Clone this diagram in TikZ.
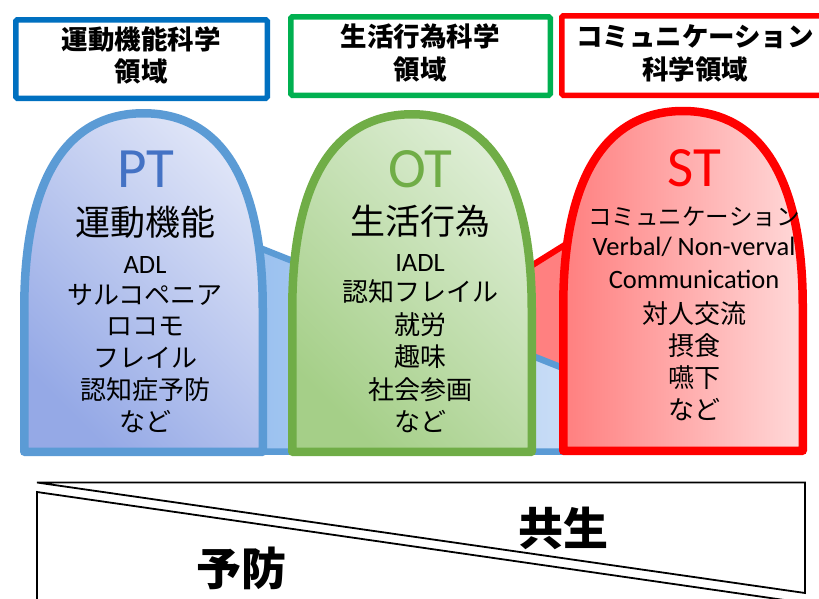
\documentclass[tikz,border=0pt]{standalone}
\usepackage{fontspec}
\setmainfont{Carlito}
\newfontfamily\jp{Noto Sans CJK JP}
\definecolor{ptline}{RGB}{91,155,213}
\definecolor{ptdark}{RGB}{149,169,230}
\definecolor{ptlight}{RGB}{222,228,247}
\definecolor{ptword}{RGB}{68,114,196}
\definecolor{otline}{RGB}{112,173,71}
\definecolor{otdark}{RGB}{165,207,136}
\definecolor{otlight}{RGB}{221,237,212}
\definecolor{stleft}{RGB}{255,127,127}
\definecolor{stright}{RGB}{255,217,217}
\definecolor{bkleft}{RGB}{146,188,238}
\definecolor{bkright}{RGB}{220,232,249}
\definecolor{bkred}{RGB}{255,128,128}
\definecolor{boxblue}{RGB}{0,112,192}
\definecolor{boxgreen}{RGB}{0,176,80}
\begin{document}
\begin{tikzpicture}[x=1pt,y=-1pt,
  topbox/.style={line width=5.5pt, rounded corners=1.5pt, fill=white},
  boxtext/.style={anchor=base, inner sep=0pt, font=\jp\bfseries\fontsize{26.5}{30}\selectfont},
  archline/.style={line width=8.5pt, line join=round},
  bigabbr/.style={anchor=base, inner sep=0pt, font=\fontsize{57}{60}\selectfont},
  headword/.style={anchor=base, inner sep=0pt, font=\jp\fontsize{35}{40}\selectfont},
  jpitem/.style={anchor=base, inner sep=0pt, font=\jp\fontsize{26}{30}\selectfont},
  enitem/.style={anchor=base, inner sep=0pt, font=\fontsize{26.5}{30}\selectfont},
  bigword/.style={anchor=base, inner sep=0pt, font=\jp\bfseries\fontsize{45}{50}\selectfont},
  tri/.style={draw=black, line width=1.8pt, fill=white}]
\useasboundingbox (0,0) rectangle (819,598);
\clip (0,0) rectangle (819,598);

% top boxes
\draw[topbox, draw=boxblue] (15.75,19.75) rectangle (267.25,98.25);
\draw[topbox, draw=boxgreen] (290.75,16.75) rectangle (550.25,95.25);
\draw[topbox, draw=red] (561.75,15.75) rectangle (840,95.25);
\node[boxtext] (b1a) at (141,49.8) {運動機能科学};
\node[boxtext] (b1b) at (141,81.3) {領域};
\node[boxtext] (b2a) at (420,46.8) {生活行為科学};
\node[boxtext] (b2b) at (420,79.8) {領域};
\node[boxtext] (b3a) at (695,46.8) {コミュニケーション};
\node[boxtext] (b3b) at (695,79.8) {科学領域};

% background connecting shapes
\draw[line width=6pt, draw=red, fill=bkred] (440,322.9) -- (640,197.9) -- (640,440) -- (440,440) -- cycle;
\draw[line width=6.5pt, draw=ptline, left color=bkleft, right color=bkright] (200,224.3) -- (700,422.3) -- (700,451.5) -- (200,451.5) -- cycle;

% arches
\draw[archline, draw=ptline, top color=ptlight, bottom color=ptdark, shading angle=-45]
  (24.25,451.75) -- (24.25,309) .. controls (24.25,161) and (78.5,113.25) .. (143.5,113.25)
  .. controls (208.5,113.25) and (262.75,161) .. (262.75,309) -- (262.75,451.75) -- cycle;
\draw[archline, draw=otline, top color=otlight, bottom color=otdark, shading angle=-45]
  (292.25,451.75) -- (292.25,310) .. controls (292.25,162) and (347,114.25) .. (412,114.25)
  .. controls (477,114.25) and (531.75,162) .. (531.75,310) -- (531.75,451.75) -- cycle;
\draw[archline, draw=red, left color=stleft, right color=stright]
  (563.25,450.75) -- (563.25,307) .. controls (563.25,159) and (618,111) .. (683,111)
  .. controls (748,111) and (802.75,159) .. (802.75,307) -- (802.75,450.75) -- cycle;

% PT texts
\node[bigabbr, text=ptword] (pt) at (146,187) {PT};
\node[headword] (pt0) at (145,235.8) {運動機能};
\node[enitem] (pt1) at (145,273) {ADL};
\node[jpitem] (pt2) at (145,304.9) {サルコペニア};
\node[jpitem] (pt3) at (145,335.9) {ロコモ};
\node[jpitem] (pt4) at (145,367.9) {フレイル};
\node[jpitem] (pt5) at (145,399.9) {認知症予防};
\node[jpitem] (pt6) at (145,431.9) {など};

% OT texts
\node[bigabbr, text=otline] (ot) at (420,187) {OT};
\node[headword] (ot0) at (420,234.3) {生活行為};
\node[enitem] (ot1) at (420,271.5) {IADL};
\node[jpitem] (ot2) at (420,301.9) {認知フレイル};
\node[jpitem] (ot3) at (420,334.9) {就労};
\node[jpitem] (ot4) at (420,366.9) {趣味};
\node[jpitem] (ot5) at (420,399.9) {社会参画};
\node[jpitem] (ot6) at (420,431.9) {など};

% ST texts
\node[bigabbr, text=red] (st) at (694,186) {ST};
\node[anchor=base, inner sep=0pt, font=\jp\fontsize{23.5}{26}\selectfont] (st0) at (694,225.7) {コミュニケーション};
\node[enitem] (st1) at (694,255) {Verbal/ Non-verval};
\node[enitem] (st2) at (694,288) {Communication};
\node[jpitem] (st3) at (694,323.9) {対人交流};
\node[jpitem] (st4) at (694,355.9) {摂食};
\node[jpitem] (st5) at (694,387.9) {嚥下};
\node[jpitem] (st6) at (694,419.9) {など};

% bottom band
\draw[tri] (37,482.5) -- (805,482.5) -- (805,593) -- cycle;
\draw[tri] (37,492) -- (850,609.5) -- (37,609.5) -- cycle;
\node[bigword] (kyosei) at (563,545) {共生};
\node[bigword] (yobo) at (241,585) {予防};
\end{tikzpicture}
\end{document}
